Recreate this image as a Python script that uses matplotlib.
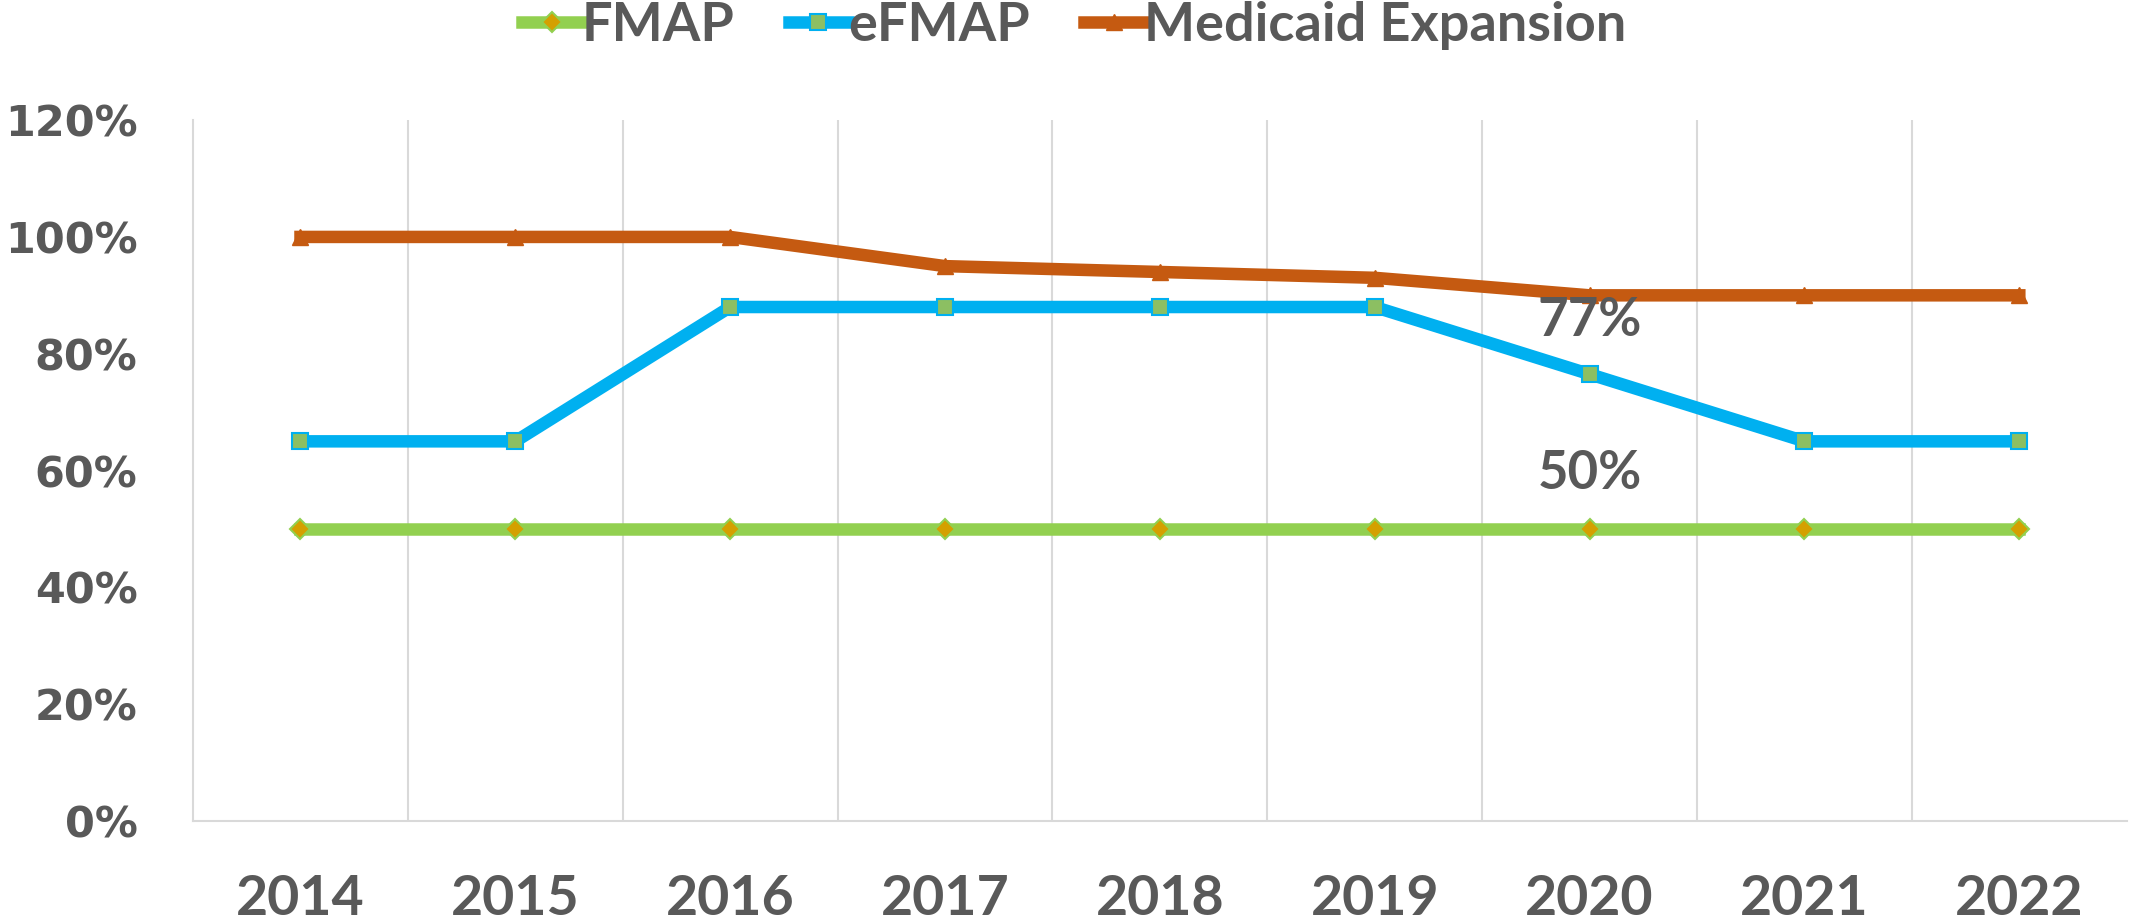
import numpy as np
import matplotlib
matplotlib.use("Agg")
import matplotlib.pyplot as plt
from matplotlib.ticker import PercentFormatter

years = ["2014", "2015", "2016", "2017", "2018", "2019", "2020", "2021", "2022"]
fmap = [0.50, 0.50, 0.50, 0.50, 0.50, 0.50, 0.50, 0.50, 0.50]
efmap = [0.65, 0.65, 0.88, 0.88, 0.88, 0.88, 0.765, 0.65, 0.65]
expansion = [1.00, 1.00, 1.00, 0.95, 0.94, 0.93, 0.90, 0.90, 0.90]
labels = [(6, 0.857, "77%"), (6, 0.595, "50%")]

gray = "#595959"
narrow = ["Lato", "DejaVu Sans"]

fig = plt.figure(figsize=(21.31, 9.24), dpi=100)
ax = fig.add_axes([0.0906, 0.1115, 0.9074, 0.7585])
x = np.arange(len(years))

ax.plot(x, fmap, color="#92D050", lw=9, marker="D", ms=10,
        mfc="#D4A000", mec="#92D050", mew=1.5, label="FMAP", zorder=3)
ax.plot(x, efmap, color="#00B0F0", lw=9, marker="s", ms=12,
        mfc="#8CBF62", mec="#00B0F0", mew=1.5, label="eFMAP", zorder=3)
ax.plot(x, expansion, color="#C55A11", lw=9, marker="^", ms=12,
        mfc="#C55A11", mec="#C55A11", label="Medicaid Expansion", zorder=3)

# value labels
for xi, yi, t in labels:
    ax.text(xi, yi, t, ha="center", va="center", fontsize=38,
            fontweight="bold", color=gray, family=narrow)

ax.set_xlim(-0.5, len(years) - 0.5)
ax.set_ylim(0, 1.2)
ax.set_yticks(np.arange(0, 1.21, 0.2))
ax.yaxis.set_major_formatter(PercentFormatter(1.0, decimals=0))
ax.set_xticks(x)
ax.set_xticklabels(years)
ax.set_xticks(np.arange(0.5, len(years) - 1, 1), minor=True)
ax.grid(True, axis="x", which="minor", color="#D9D9D9", lw=1.5)
ax.tick_params(axis="both", which="both", length=0)
ax.tick_params(axis="y", pad=40)
ax.tick_params(axis="x", pad=38)
for lab in ax.get_yticklabels():
    lab.set_fontsize(31)
    lab.set_fontweight("bold")
    lab.set_color(gray)
    lab.set_family("DejaVu Sans")
for lab in ax.get_xticklabels():
    lab.set_fontsize(40)
    lab.set_fontweight("bold")
    lab.set_color(gray)
    lab.set_family(narrow)

for s in ["top", "right"]:
    ax.spines[s].set_visible(False)
for s in ["left", "bottom"]:
    ax.spines[s].set_color("#D9D9D9")
    ax.spines[s].set_linewidth(1.5)

leg = fig.legend(loc="center", bbox_to_anchor=(0.504, 0.972), ncol=3,
                 frameon=False, handlelength=1.1, handletextpad=0.0,
                 columnspacing=1.0,
                 prop={"family": narrow, "weight": "bold", "size": 39})
for t in leg.get_texts():
    t.set_color(gray)

fig.savefig("out.png", dpi=100)
